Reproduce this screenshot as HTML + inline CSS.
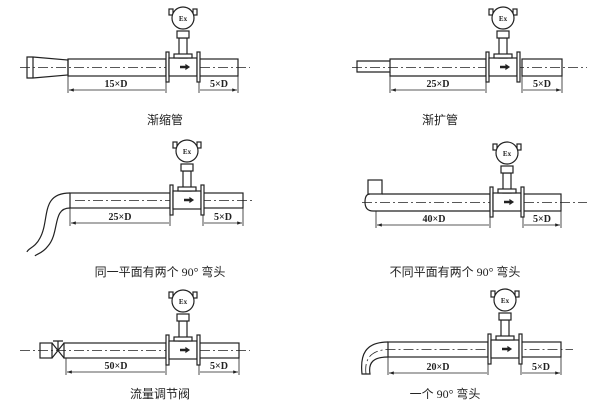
<!DOCTYPE html>
<html><head><meta charset="utf-8"><style>
html,body{margin:0;padding:0;background:#fff}
svg{display:block}
text{font-family:"Liberation Serif","Noto Sans CJK SC",serif;fill:#222}
.cap{font-family:"Liberation Sans","Noto Sans CJK SC",sans-serif;font-size:12px}
.dim{font-size:10px;font-weight:bold}
</style></head><body>
<svg width="600" height="418" viewBox="0 0 600 418" xmlns="http://www.w3.org/2000/svg">
<defs>
<g id="m" fill="#fff" stroke="#222" stroke-width="1.2">
<rect x="-3" y="-15" width="3" height="30"/>
<rect x="0" y="-9" width="28" height="18"/>
<rect x="28" y="-15" width="3" height="30"/>
<rect x="10" y="-29" width="8" height="20"/>
<rect x="5" y="-13" width="18" height="4"/>
<rect x="8" y="-36" width="12" height="7"/>
<rect x="0" y="-58" width="4" height="6"/>
<rect x="24" y="-58" width="4" height="6"/>
<circle cx="14" cy="-49" r="11"/>
<path d="M11 0h6" stroke-width="2.5"/><path d="M17 -2l3 2l-3 2z" fill="#222"/>
</g>
<marker id="a" viewBox="0 0 6 6" refX="6" refY="3" markerWidth="6" markerHeight="6" orient="auto-start-reverse"><path d="M0 1L6 3L0 5z" fill="#222"/></marker>
</defs>
<g fill="none" stroke="#222" stroke-width="1.2">
<!-- panel1 -->
<path d="M27 57h6l35 3v15l-35 3h-6z M33 57v21"/>
<rect x="68" y="59" width="98" height="17"/>
<rect x="199" y="59" width="39" height="17"/>
<path d="M20 67.5h230" stroke-dasharray="10 3 2 3" stroke-width="0.8"/>
<path d="M68 76v17M166 76v17M199 76v17M238 76v17" stroke-width="0.8"/>
<path d="M69 90h96M200 90h37" stroke-width="0.8" marker-start="url(#a)" marker-end="url(#a)"/>
<!-- panel2 -->
<path d="M357 61v11h33v-11z"/>
<path d="M390 61l0 -2h96v17h-96v-4"/>
<rect x="522" y="59" width="40" height="17"/>
<path d="M352 67.5h235" stroke-dasharray="10 3 2 3" stroke-width="0.8"/>
<path d="M390 76v17M486 76v17M522 76v17M562 76v17" stroke-width="0.8"/>
<path d="M391 90h94M523 90h38" stroke-width="0.8" marker-start="url(#a)" marker-end="url(#a)"/>
<!-- panel3 -->
<rect x="70" y="193" width="100" height="15"/>
<rect x="203" y="193" width="40" height="15"/>
<path d="M70 193 C40 193,50 220,40 238 C35 248,28 248,27 252 M70 208 C52 208,60 232,48 246 C42 254,36 254,35 256"/>
<path d="M75 200.5h180" stroke-dasharray="10 3 2 3" stroke-width="0.8"/>
<path d="M70 208v18M170 208v18M203 208v18M243 208v18" stroke-width="0.8"/>
<path d="M71 223h98M204 223h38" stroke-width="0.8" marker-start="url(#a)" marker-end="url(#a)"/>
<!-- panel4 -->
<rect x="368" y="180" width="14" height="14"/>
<path d="M370 194 q-5 0 -5 8 q0 9 8 9 M382 194h108v17h-117"/>
<rect x="523" y="194" width="38" height="17"/>
<path d="M362 202.5h225" stroke-dasharray="10 3 2 3" stroke-width="0.8"/>
<path d="M376 211v17M490 211v17M523 211v17M561 211v17" stroke-width="0.8"/>
<path d="M377 225h112M524 225h36" stroke-width="0.8" marker-start="url(#a)" marker-end="url(#a)"/>
<!-- panel5 -->
<rect x="40" y="343" width="12" height="15"/>
<path d="M52 343l12 15M52 358l12 -15M58 350v-9M53 341h10"/>
<rect x="64" y="343" width="102" height="15"/>
<rect x="199" y="343" width="40" height="15"/>
<path d="M20 350.5h230" stroke-dasharray="10 3 2 3" stroke-width="0.8"/>
<path d="M66 358v17M166 358v17M199 358v17M239 358v17" stroke-width="0.8"/>
<path d="M67 372h98M200 372h38" stroke-width="0.8" marker-start="url(#a)" marker-end="url(#a)"/>
<!-- panel6 -->
<rect x="388" y="342" width="100" height="15"/>
<rect x="521" y="342" width="40" height="15"/>
<path d="M388 342 C365 342,360 355,362 374h8 C368 362,374 357,388 357"/>
<path d="M366 374 C364 358,372 350,388 349.5h185" stroke-dasharray="10 3 2 3" stroke-width="0.8"/>
<path d="M388 357v18M488 357v18M521 357v18M561 357v18" stroke-width="0.8"/>
<path d="M389 373h98M522 373h38" stroke-width="0.8" marker-start="url(#a)" marker-end="url(#a)"/>
</g>
<use href="#m" x="169" y="67"/>
<use href="#m" x="489" y="67"/>
<use href="#m" x="173" y="200"/>
<use href="#m" x="493" y="202"/>
<use href="#m" x="169" y="350"/>
<use href="#m" x="491" y="349"/>
<g class="dim" text-anchor="middle" font-size="10">
<text x="116" y="87">15×D</text><text x="219" y="87">5×D</text>
<text x="438" y="87">25×D</text><text x="542" y="87">5×D</text>
<text x="120" y="220">25×D</text><text x="223" y="220">5×D</text>
<text x="434" y="222">40×D</text><text x="542" y="222">5×D</text>
<text x="116" y="369">50×D</text><text x="219" y="369">5×D</text>
<text x="438" y="370">20×D</text><text x="541" y="370">5×D</text>
</g>
<g font-size="7" font-weight="bold" text-anchor="middle">
<text x="183" y="21">Ex</text><text x="503" y="21">Ex</text><text x="187" y="154">Ex</text>
<text x="507" y="156">Ex</text><text x="183" y="304">Ex</text><text x="505" y="303">Ex</text>
</g>
<g class="cap" text-anchor="middle">
<text x="165" y="124">渐缩管</text>
<text x="440" y="124">渐扩管</text>
<text x="160" y="276">同一平面有两个 90° 弯头</text>
<text x="455" y="276">不同平面有两个 90° 弯头</text>
<text x="160" y="398">流量调节阀</text>
<text x="445" y="398">一个 90° 弯头</text>
</g>
</svg>
</body></html>
